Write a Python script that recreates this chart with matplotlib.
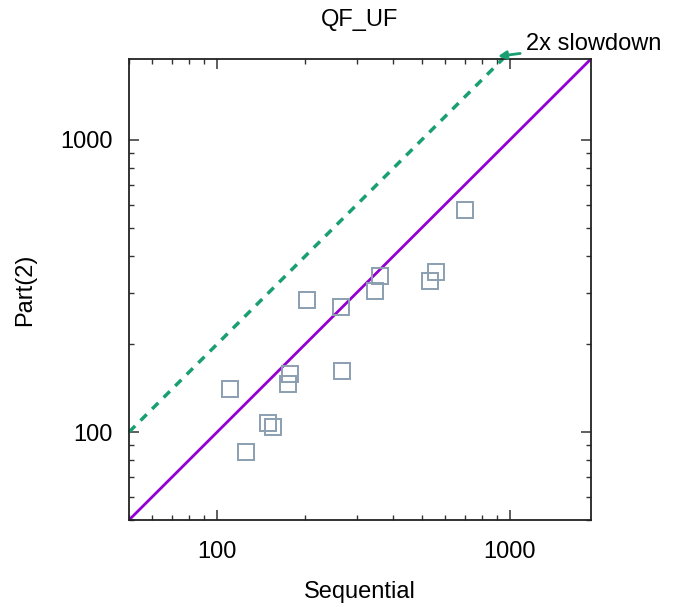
import numpy as np
import matplotlib.pyplot as plt
from matplotlib.ticker import LogLocator, FixedLocator, NullFormatter

plt.rcParams['font.family'] = ['Liberation Sans', 'DejaVu Sans']
plt.rcParams['font.size'] = 17

# runtimes (seconds): sequential vs. 2-way partitioned
seq = [111, 125, 149, 155, 177, 174, 202, 265, 267, 361, 347, 535, 558, 703]
part2 = [140, 85.5, 107, 104, 158, 146, 282, 268, 162, 341, 303, 330, 352, 574]

lo, hi = 50, 1890

fig = plt.figure(figsize=(6.73, 6.07), dpi=100)
ax = fig.add_axes([0.1917, 0.1433, 0.6863, 0.7595])

ax.set_xscale('log')
ax.set_yscale('log')
ax.set_xlim(lo, hi)
ax.set_ylim(lo, hi)

# reference lines: equal time and 2x slowdown
ax.plot([lo, hi], [lo, hi], color='#9400d3', lw=2, zorder=2)
ax.plot([lo, hi / 2], [2 * lo, hi], color='#1a9e73', lw=2.5,
        dashes=(2.5, 2.2), zorder=2, clip_on=False)

ax.plot(seq, part2, linestyle='none', marker='s', markersize=11.5,
        markerfacecolor='none', markeredgecolor='#8a9fb0',
        markeredgewidth=1.4, zorder=3)

ax.annotate('2x slowdown', xy=(910, 1930), xytext=(20, 9),
            textcoords='offset points', ha='left', va='center',
            fontsize=17, annotation_clip=False,
            arrowprops=dict(arrowstyle='-|>', color='#1a9e73', lw=2,
                            mutation_scale=12, shrinkA=2, shrinkB=0))

ax.xaxis.set_major_locator(FixedLocator([100, 1000]))
ax.yaxis.set_major_locator(FixedLocator([100, 1000]))
ax.xaxis.set_minor_locator(LogLocator(base=10, subs=np.arange(2, 10)))
ax.yaxis.set_minor_locator(LogLocator(base=10, subs=np.arange(2, 10)))
ax.xaxis.set_minor_formatter(NullFormatter())
ax.yaxis.set_minor_formatter(NullFormatter())
ax.set_xticklabels(['100', '1000'])
ax.set_yticklabels(['100', '1000'])

ax.tick_params(which='both', direction='in', top=True, right=True,
               color='#333333')
ax.tick_params(which='major', length=7, width=1.1, pad=12, labelsize=17)
ax.tick_params(axis='x', which='major', pad=15)
ax.tick_params(which='minor', length=3.5, width=1.0)
for sp in ax.spines.values():
    sp.set_linewidth(1.3)
    sp.set_color('#222222')

ax.set_title('QF_UF', fontsize=17, pad=24)
ax.set_xlabel('Sequential', fontsize=17, labelpad=13)
ax.set_ylabel('Part(2)', fontsize=17, labelpad=17)

fig.savefig('out.png', dpi=100)
